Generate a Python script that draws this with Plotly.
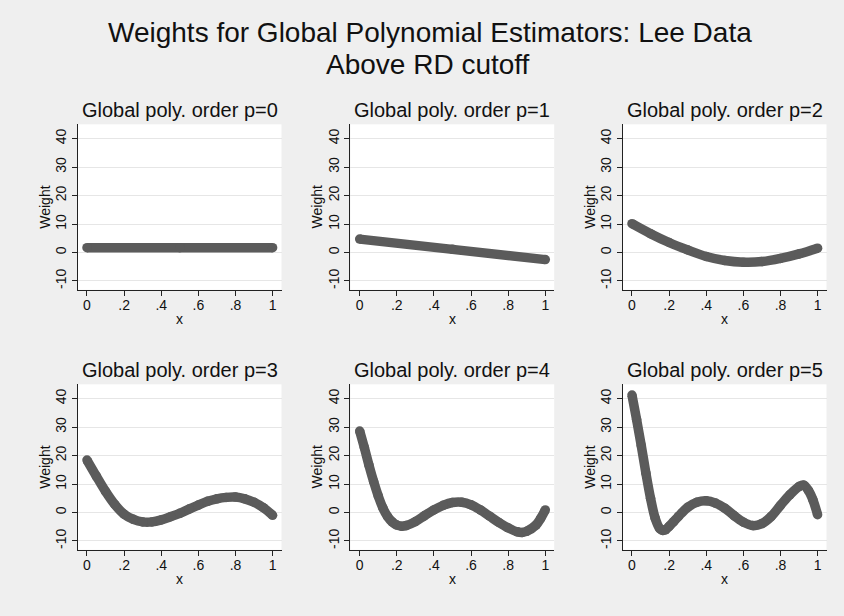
import plotly.graph_objects as go

# ---------------- data ----------------
main_title_1 = "Weights for Global Polynomial Estimators: Lee Data"
main_title_2 = "Above RD cutoff"
panel_titles = ["Global poly. order p=0", "Global poly. order p=1", "Global poly. order p=2",
                "Global poly. order p=3", "Global poly. order p=4", "Global poly. order p=5"]

x_tick_vals = [0, 0.2, 0.4, 0.6, 0.8, 1]
x_tick_text = ["0", ".2", ".4", ".6", ".8", "1"]
y_tick_vals = [-10, 0, 10, 20, 30, 40]
y_tick_text = ["-10", "0", "10", "20", "30", "40"]

x_p0 = [0, 0.5, 1]
w_p0 = [1.7, 1.7, 1.7]

x_p1 = [0, 0.5, 1]
w_p1 = [4.7, 1.1, -2.5]

x_p2 = [0, 0.1, 0.2, 0.3, 0.4, 0.5, 0.6, 0.7, 0.8, 0.9, 1]
w_p2 = [10.1, 6.6, 3.5, 0.9, -1.4, -2.8, -3.4, -3.2, -2.1, -0.5, 1.5]

x_p3 = [0, 0.05, 0.1, 0.15, 0.2, 0.25, 0.3, 0.35, 0.4, 0.45, 0.5, 0.55, 0.6, 0.65,
        0.7, 0.75, 0.8, 0.85, 0.9, 0.95, 1]
w_p3 = [18.4, 12.8, 7.4, 2.8, -0.6, -2.4, -3.3, -3.3, -2.6, -1.5, -0.3, 1.2, 2.6, 3.9,
        4.8, 5.3, 5.4, 4.8, 3.6, 1.7, -1.0]

x_p4 = [0, 0.025, 0.05, 0.075, 0.1, 0.125, 0.15, 0.175, 0.2, 0.225, 0.25, 0.3, 0.35, 0.4,
        0.45, 0.5, 0.55, 0.6, 0.65, 0.7, 0.75, 0.8, 0.85, 0.875, 0.9, 0.95, 0.975, 1]
w_p4 = [28.6, 22.8, 16.6, 10.9, 5.8, 1.6, -1.4, -3.3, -4.4, -4.8, -4.6, -3.2, -1.1, 0.9,
        2.5, 3.5, 3.6, 2.7, 0.9, -1.3, -3.5, -5.4, -6.8, -7.0, -6.6, -4.4, -2.1, 0.9]

x_p5 = [0, 0.025, 0.05, 0.075, 0.1, 0.125, 0.15, 0.165, 0.18, 0.2, 0.225, 0.25, 0.3, 0.35,
        0.4, 0.45, 0.5, 0.55, 0.6, 0.65, 0.7, 0.75, 0.8, 0.85, 0.9, 0.925, 0.95, 0.975, 1]
w_p5 = [41.2, 32.6, 23.5, 13.8, 5.0, -2.0, -5.7, -6.3, -6.1, -4.9, -3.2, -1.4, 1.8, 3.6,
        4.1, 3.3, 1.5, -1.1, -3.4, -4.6, -3.9, -1.4, 2.5, 6.2, 9.1, 9.6, 7.8, 4.4, -0.8]

panels_x = [x_p0, x_p1, x_p2, x_p3, x_p4, x_p5]
panels_w = [w_p0, w_p1, w_p2, w_p3, w_p4, w_p5]

# ---------------- layout geometry (pixels) ----------------
W, H = 844, 616
col_left = [77.7, 350.4, 622.7]
col_w = 203.8
row_top = [124.3, 384.3]
row_h = 165.5
x_range = [-0.05, 1.048]
y_range = [-13.1, 45.0]

FONT = "Liberation Sans, Arial, Helvetica, sans-serif"
MARK = "#5b5b5b"
AXC = "#222222"
BG = "#efefef"


def px(x):
    return x / W


def py(y):
    return 1 - y / H


fig = go.Figure()
annotations = []

for i in range(6):
    r, c = divmod(i, 3)
    n = i + 1
    xa = "x" if n == 1 else f"x{n}"
    ya = "y" if n == 1 else f"y{n}"
    fig.add_trace(go.Scatter(
        x=panels_x[i], y=panels_w[i], xaxis=xa, yaxis=ya,
        mode="lines+markers",
        line=dict(color=MARK, width=9.5, shape="spline", smoothing=1.0),
        marker=dict(color=MARK, size=9.5),
        showlegend=False, hoverinfo="skip",
    ))
    x0 = col_left[c]
    x1 = x0 + col_w
    y0 = row_top[r]
    y1 = y0 + row_h
    xkey = "xaxis" if n == 1 else f"xaxis{n}"
    ykey = "yaxis" if n == 1 else f"yaxis{n}"
    fig.layout[xkey] = dict(
        domain=[px(x0), px(x1)], anchor=ya, range=x_range,
        tickmode="array", tickvals=x_tick_vals, ticktext=x_tick_text,
        showline=True, linecolor=AXC, linewidth=1,
        ticks="outside", ticklen=5, tickcolor=AXC, tickwidth=1,
        ticklabelstandoff=-3,
        showgrid=False, zeroline=False,
        tickfont=dict(family=FONT, size=14, color="#111111"),
        fixedrange=True,
    )
    fig.layout[ykey] = dict(
        domain=[py(y1), py(y0)], anchor=xa, range=y_range,
        tickmode="array", tickvals=y_tick_vals, ticktext=y_tick_text,
        tickangle=-90,
        showline=True, linecolor=AXC, linewidth=1,
        ticks="outside", ticklen=5, tickcolor=AXC, tickwidth=1,
        showgrid=True, gridcolor="#e6e6e6", gridwidth=1, zeroline=False,
        tickfont=dict(family=FONT, size=14, color="#111111"),
        fixedrange=True,
    )
    cx = (x0 + x1) / 2
    # panel title
    annotations.append(dict(
        text=panel_titles[i], x=px(cx), y=py(y0 - 14.5), xref="paper", yref="paper",
        xanchor="center", yanchor="middle", showarrow=False,
        font=dict(family=FONT, size=20, color="#111111"),
    ))
    # y axis title
    annotations.append(dict(
        text="Weight", x=px(x0 - 33), y=py((y0 + y1) / 2), xref="paper", yref="paper",
        xanchor="center", yanchor="middle", showarrow=False, textangle=-90,
        font=dict(family=FONT, size=14, color="#111111"),
    ))
    # x axis title
    annotations.append(dict(
        text="x", x=px(cx), y=py(y1 + 29.5), xref="paper", yref="paper",
        xanchor="center", yanchor="middle", showarrow=False,
        font=dict(family=FONT, size=14, color="#111111"),
    ))

annotations.append(dict(
    text=main_title_1, x=px(430), y=py(32.5), xref="paper", yref="paper",
    xanchor="center", yanchor="middle", showarrow=False,
    font=dict(family=FONT, size=28, color="#111111"),
))
annotations.append(dict(
    text=main_title_2, x=px(428), y=py(64), xref="paper", yref="paper",
    xanchor="center", yanchor="middle", showarrow=False,
    font=dict(family=FONT, size=28, color="#111111"),
))

fig.update_layout(
    width=W, height=H, autosize=False,
    margin=dict(l=0, r=0, t=0, b=0),
    paper_bgcolor=BG, plot_bgcolor="white",
    annotations=annotations,
    showlegend=False,
)

fig.write_html(
    "out.html",
    config={"displayModeBar": False},
    post_script=["document.body.style.margin='0';document.body.style.padding='0';"],
)
